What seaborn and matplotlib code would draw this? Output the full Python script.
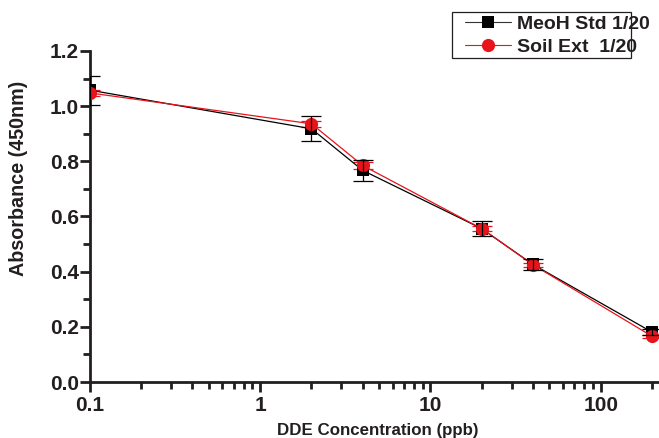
import matplotlib
matplotlib.use("Agg")
import matplotlib.pyplot as plt
import seaborn as sns
import pandas as pd
import numpy as np
from matplotlib.ticker import LogLocator, FixedLocator, FuncFormatter, MultipleLocator
from matplotlib.lines import Line2D
from matplotlib.patches import Rectangle

# Data
conc = [0.1, 2, 4, 20, 40, 200]
meoh = [1.058, 0.918, 0.767, 0.556, 0.426, 0.181]
meoh_err = [0.053, 0.046, 0.039, 0.028, 0.021, 0.010]
soil = [1.048, 0.936, 0.785, 0.556, 0.425, 0.166]
soil_err = [0.012, 0.012, 0.012, 0.010, 0.008, 0.006]
series_names = ["MeoH Std 1/20", "Soil Ext  1/20"]
x_ticks = [0.1, 1, 10, 100]
x_ticklabels = ["0.1", "1", "10", "100"]
y_ticks = [0.0, 0.2, 0.4, 0.6, 0.8, 1.0, 1.2]

sns.set_style("ticks")
plt.rcParams["font.family"] = ["Liberation Sans", "DejaVu Sans"]
plt.rcParams["font.weight"] = "bold"

df_meoh = pd.DataFrame({"conc": conc, "abs": meoh})
df_soil = pd.DataFrame({"conc": conc, "abs": soil})

W, H = 659, 438
fig = plt.figure(figsize=(W / 100, H / 100), dpi=100)
ax = fig.add_axes([90 / W, 56 / H, 569 / W, 331 / H])

ax.set_xscale("log")
sns.lineplot(data=df_meoh, x="conc", y="abs", color="black", marker="s",
             markersize=8.5, markeredgewidth=0, linewidth=0.9, ax=ax, zorder=3)
sns.lineplot(data=df_soil, x="conc", y="abs", color="#e8141c", marker="o",
             markersize=9.5, markeredgewidth=0, linewidth=0.9, ax=ax, zorder=3.5)
ax.errorbar(conc, soil, yerr=soil_err, fmt="none", ecolor="#e8141c",
            elinewidth=0.9, capsize=7, capthick=0.9, zorder=2)
ax.errorbar(conc, meoh, yerr=meoh_err, fmt="none", ecolor="black",
            elinewidth=0.9, capsize=7, capthick=0.9, zorder=4)

ax.set_xlim(0.1, 220)
ax.set_ylim(0, 1.2)
ax.xaxis.set_major_locator(FixedLocator(x_ticks))
ax.xaxis.set_major_formatter(FuncFormatter(lambda v, p: x_ticklabels[x_ticks.index(v)] if v in x_ticks else ""))
ax.xaxis.set_minor_locator(LogLocator(base=10, subs=np.arange(2, 10), numticks=20))
ax.xaxis.set_minor_formatter(FuncFormatter(lambda v, p: ""))
ax.yaxis.set_major_locator(FixedLocator(y_ticks))
ax.yaxis.set_major_formatter(FuncFormatter(lambda v, p: f"{v:.1f}"))
ax.yaxis.set_minor_locator(MultipleLocator(0.1))

for s in ["top", "right"]:
    ax.spines[s].set_visible(False)
for s in ["left", "bottom"]:
    ax.spines[s].set_linewidth(2)
    ax.spines[s].set_color("#231f20")
ax.spines["left"].set_bounds(0, 1.2)

ax.tick_params(axis="both", which="major", direction="out", length=7, width=2,
               color="#231f20", labelsize=15, pad=1)
ax.tick_params(axis="x", which="major", pad=3)
ax.tick_params(axis="both", which="minor", direction="out", length=5, width=2,
               color="#231f20")
for lab in ax.get_xticklabels() + ax.get_yticklabels():
    lab.set_fontweight("bold")
    lab.set_color("#231f20")

ax.set_xlabel("DDE Concentration (ppb)", fontsize=12.2, fontweight="bold",
              color="#231f20", va="center", ha="center")
ax.set_ylabel("Absorbance (450nm)", fontsize=14.2, fontweight="bold",
              color="#231f20", va="center", ha="center")
ax.xaxis.set_label_coords((378 - 90) / 569, (382 - 430) / 331)
ax.yaxis.set_label_coords((19 - 90) / 569, (382 - 178) / 331)

# legend box (text overflows the frame in the reference)
fig.patches.append(Rectangle((452 / W, 1 - 58 / H), 179 / W, 46 / H,
                             transform=fig.transFigure, fill=False,
                             edgecolor="#231f20", linewidth=0.9))
handles = [
    Line2D([], [], color="#333333", lw=0.8, marker="s", markersize=8.5,
           markerfacecolor="black", markeredgewidth=0),
    Line2D([], [], color="#e8141c", lw=0.8, marker="o", markersize=9.5, markeredgewidth=0),
]
leg = fig.legend(handles, series_names, loc="upper left",
                 bbox_to_anchor=(465 / W, 1 - 15 / H),
                 frameon=False,
                 prop={"weight": "bold", "size": 14}, handlelength=2.35,
                 handletextpad=0.3, borderpad=0.0, labelspacing=0.28,
                 borderaxespad=0)
for t in leg.get_texts():
    t.set_color("#231f20")

fig.savefig("out.png", dpi=100)
